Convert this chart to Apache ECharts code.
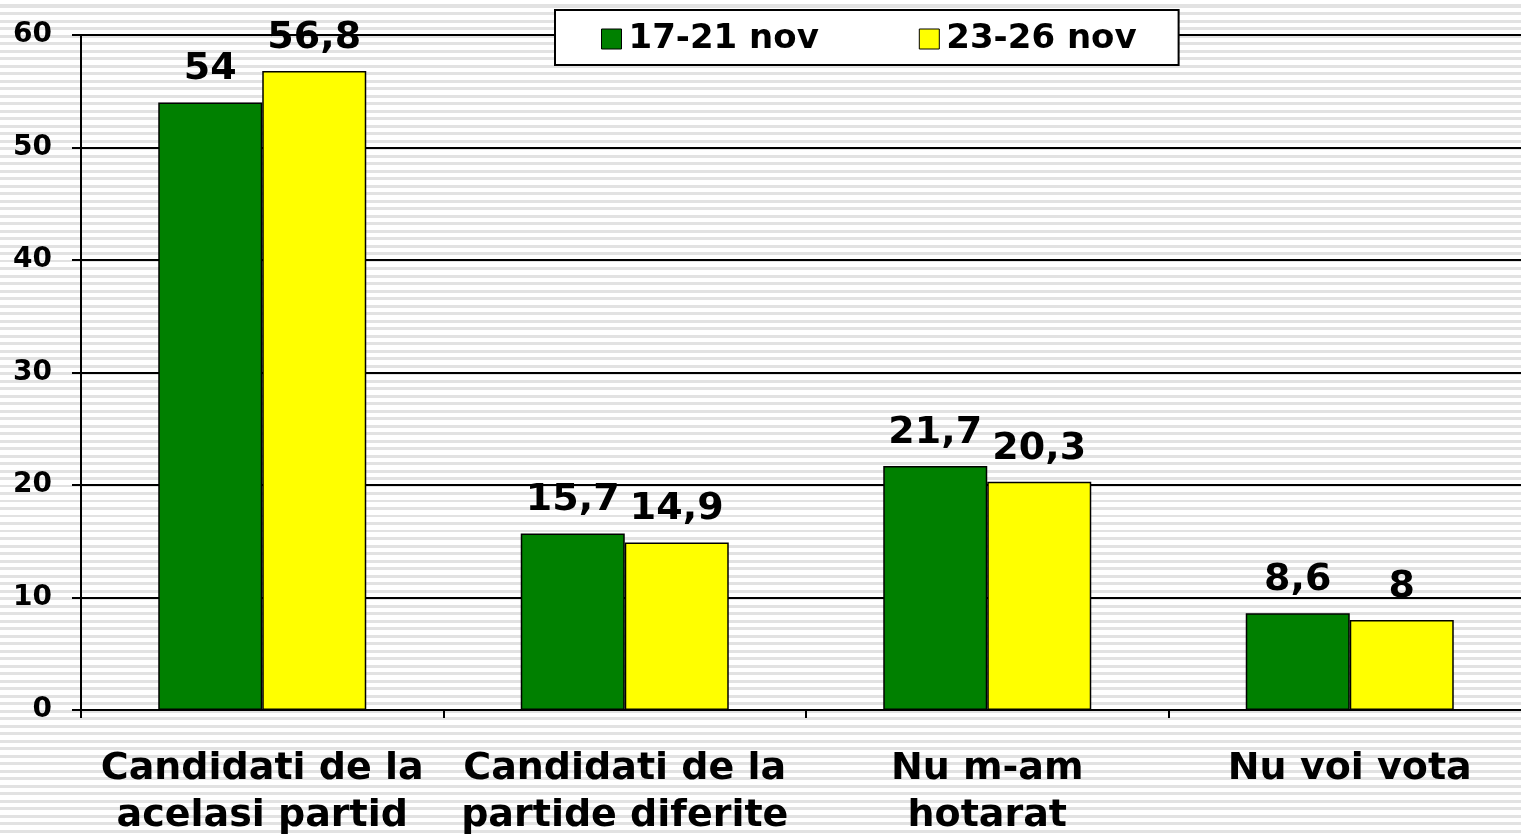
<!DOCTYPE html>
<html>
<head>
<meta charset="utf-8">
<script src="https://cdn.jsdelivr.net/npm/echarts@6/dist/echarts.min.js"></script>
<style>
  html, body { margin: 0; padding: 0; }
  body {
    width: 1521px; height: 834px; overflow: hidden;
    background: repeating-linear-gradient(to bottom, #ffffff 0px, #ffffff 4.5px, #e2e2e2 4.5px, #e2e2e2 7.5px);
  }
  #chart { width: 1521px; height: 834px; }
</style>
</head>
<body>
<div id="chart"></div>
<script>
const categories = [
  'Candidati de la\nacelasi partid',
  'Candidati de la\npartide diferite',
  'Nu m-am\nhotarat',
  'Nu voi vota'
]
const seriesNames = ['17-21 nov', '23-26 nov']
const week1 = [54, 15.7, 21.7, 8.6]
const week2 = [56.8, 14.9, 20.3, 8]
const yTicks = [0, 10, 20, 30, 40, 50, 60]

const FONT = 'DejaVu Sans'
const chart = echarts.init(document.getElementById('chart'), null, { renderer: 'canvas' })

function fmt(v) {
  // 56.8 -> 56,8
  return String(v).replace('.', ',')
}

const labelStyle = {
  show: true,
  position: 'top',
  distance: 14,
  fontFamily: FONT,
  fontWeight: 'bold',
  fontSize: 38,
  color: '#000',
  formatter: (p) => fmt(p.value)
}

chart.setOption({
  backgroundColor: 'transparent',
  animation: false,
  grid: { left: 81, top: 35, width: 1450, height: 675, containLabel: false, outerBoundsMode: 'none' },
  legend: {
    left: 555,
    top: 10,
    padding: [12, 42, 9, 46],
    backgroundColor: '#fff',
    borderColor: '#000',
    borderWidth: 2,
    borderRadius: 0,
    itemWidth: 20,
    itemHeight: 20,
    itemGap: 100,
    icon: 'rect',
    itemStyle: { borderColor: '#000', borderWidth: 1 },
    textStyle: { fontFamily: FONT, fontWeight: 'bold', fontSize: 34, color: '#000', padding: [0, 0, 0, 2] },
    data: seriesNames
  },
  xAxis: {
    type: 'category',
    data: categories,
    axisLine: { lineStyle: { color: '#000', width: 2 } },
    axisTick: { show: true, length: 8, lineStyle: { color: '#000', width: 2 } },
    axisLabel: {
      interval: 0,
      margin: 36,
      fontFamily: FONT,
      fontWeight: 'bold',
      fontSize: 38,
      lineHeight: 47,
      color: '#000'
    }
  },
  yAxis: {
    type: 'value',
    min: yTicks[0],
    max: yTicks[yTicks.length - 1],
    interval: 10,
    axisLine: { show: true, lineStyle: { color: '#000', width: 2 } },
    axisTick: { show: true, length: 9, lineStyle: { color: '#000', width: 2 } },
    axisLabel: {
      margin: 29,
      fontFamily: FONT,
      fontWeight: 'bold',
      fontSize: 28,
      color: '#000'
    },
    splitLine: { lineStyle: { color: '#000', width: 2 } }
  },
  series: [
    {
      name: seriesNames[0],
      type: 'bar',
      data: week1,
      barWidth: 104,
      barGap: '0%',
      itemStyle: { color: '#008000', borderColor: '#000', borderWidth: 1.5 },
      label: labelStyle
    },
    {
      name: seriesNames[1],
      type: 'bar',
      data: week2,
      barWidth: 104,
      barGap: '0%',
      itemStyle: { color: '#ffff00', borderColor: '#000', borderWidth: 1.5 },
      label: labelStyle
    }
  ]
})
</script>
</body>
</html>
